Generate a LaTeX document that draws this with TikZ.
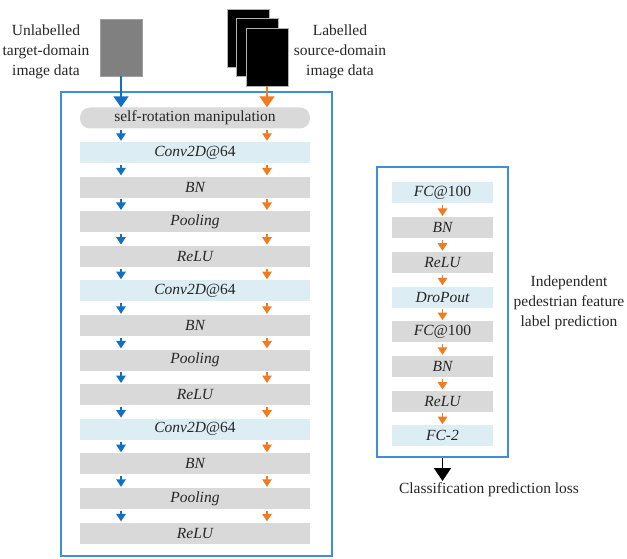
\documentclass[tikz,border=0pt]{standalone}
\usepackage{fontspec}
\setmainfont{Liberation Serif}
\usetikzlibrary{arrows.meta,positioning}
\definecolor{framec}{HTML}{3F8FD8}
\definecolor{bluec}{HTML}{1070C4}
\definecolor{orngc}{HTML}{EF7B22}
\definecolor{lbc}{HTML}{DCEDF3}
\definecolor{grc}{HTML}{D9D9D9}
\definecolor{textc}{HTML}{262626}
\newcommand{\lbl}{\fontsize{15.5}{20}\selectfont}
\tikzset{
  lyr/.style={minimum height=21pt,inner sep=0pt,font=\lbl\itshape,text=textc},
  lbar/.style={lyr,minimum width=230pt},
  rbar/.style={lyr,minimum width=101pt},
  sa/.style={-{Triangle[length=7.5pt,width=9.5pt]},line width=1.4pt,shorten <=1.5pt,shorten >=1pt},
  ba/.style={-{Triangle[length=11pt,width=15pt]},line width=1.5pt},
  txt/.style={align=center,font=\lbl,text=textc,inner sep=1pt},
  frm/.style={draw=framec,line width=1.4pt,inner sep=0pt}
}
\begin{document}
\begin{tikzpicture}[x=1pt,y=-1pt]
\useasboundingbox (0,0) rectangle (627,559);
% input images
\node[draw=gray!75,fill=gray,minimum width=42pt,minimum height=57pt] (tgt) at (121,47.5) {};
\foreach \k/\dx in {1/0,2/9.5,3/19}
  \node[draw=gray!60,fill=black,minimum width=42pt,minimum height=58pt] (src\k) at (248+\dx,38+\dx) {};
\node[txt] (tgtlbl) at (46,52) {Unlabelled\\target-domain\\image data};
\node[txt] (srclbl) at (340,52) {Labelled\\source-domain\\image data};
\coordinate (tl) at (tgt.south);
\coordinate (sl) at (src3.south);
% shared feature extractor
\node[frm,minimum width=271pt,minimum height=464pt] (lfr) at (196.5,324) {};
\node[lyr,minimum width=230pt,fill=grc,rounded corners=10pt,font=\lbl] (sr) at (195,118) {self-rotation manipulation};
\draw[ba,bluec] (tgt.south) -- (sr.north -| tl);
\draw[ba,orngc] (src3.south) -- (sr.north -| sl);
\foreach \t/\c [count=\i] in {{Conv2D{\upshape @64}}/lbc,BN/grc,Pooling/grc,ReLU/grc,
    {Conv2D{\upshape @64}}/lbc,BN/grc,Pooling/grc,ReLU/grc,
    {Conv2D{\upshape @64}}/lbc,BN/grc,Pooling/grc,ReLU/grc}
  \node[lbar,fill=\c] (l\i) at (195,{152.5+(\i-1)*34.6}) {\t};
\draw[sa,bluec] (sr.south -| tl) -- (l1.north -| tl);
\draw[sa,orngc] (sr.south -| sl) -- (l1.north -| sl);
\foreach \i in {1,...,11}{
  \pgfmathtruncatemacro\j{\i+1}
  \draw[sa,bluec] (l\i.south -| tl) -- (l\j.north -| tl);
  \draw[sa,orngc] (l\i.south -| sl) -- (l\j.north -| sl);
}
% label prediction branch
\node[frm,minimum width=131pt,minimum height=290pt] (rfr) at (442.5,312) {};
\foreach \t/\c [count=\i] in {{FC{\upshape @100}}/lbc,BN/grc,ReLU/grc,DroPout/lbc,
    {FC{\upshape @100}}/grc,BN/grc,ReLU/grc,FC-2/lbc}
  \node[rbar,fill=\c] (r\i) at (442.5,{193+(\i-1)*34.7}) {\t};
\foreach \i in {1,...,7}{
  \pgfmathtruncatemacro\j{\i+1}
  \draw[sa,orngc] (r\i.south) -- (r\j.north);
}
\node[txt] (indlbl) at (569,303) {Independent\\pedestrian feature\\label prediction};
\node[txt,anchor=north] (loss) at (489,481) {Classification prediction loss};
\draw[ba,black,-{Triangle[length=13pt,width=17pt]}] (rfr.south) -- (loss.north -| rfr.south);
\end{tikzpicture}
\end{document}
